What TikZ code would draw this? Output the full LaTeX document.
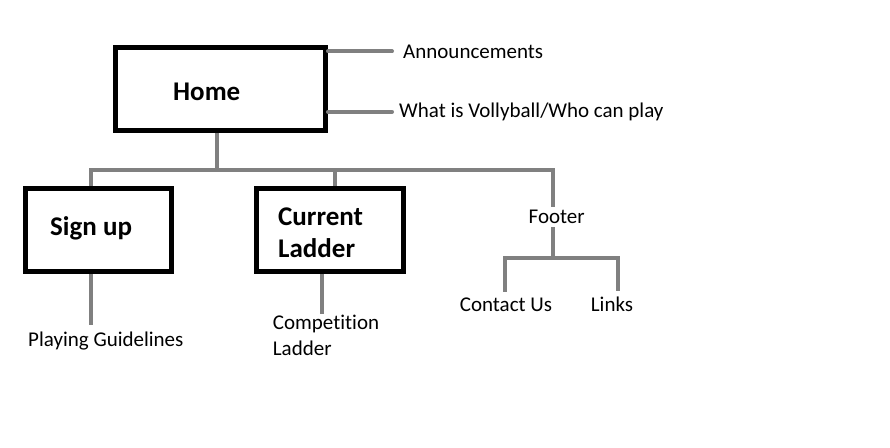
\documentclass[tikz,border=0pt]{standalone}
\usepackage{fontspec}
\setmainfont{Carlito}[RawFeature={-liga;-dlig;-clig}]
\begin{document}
\begin{tikzpicture}[x=1pt,y=-1pt,
  box/.style={draw=black,line width=5pt,rectangle,inner sep=0pt,minimum height=83pt},
  bigtext/.style={inner sep=0pt,font=\bfseries\fontsize{27}{32}\selectfont,align=left},
  smalltext/.style={inner sep=0pt,font=\fontsize{21}{26.5}\selectfont,align=left},
  conn/.style={draw=gray,line width=4pt,line cap=butt},
  rconn/.style={conn,line cap=round}]
\useasboundingbox (0,0) rectangle (890,447);
% boxes
\node[box,minimum width=210pt] (home) at (220.5,89) {};
\node[box,minimum width=146pt] (signup) at (98.5,230) {};
\node[box,minimum width=147pt] (ladder) at (330,230) {};
% box texts
\node[bigtext,anchor=base west] (homet) at (173,100) {Home};
\node[bigtext,anchor=base west] (signupt) at (50,235.7) {Sign up};
\node[bigtext,anchor=north west] (laddert) at (278,207.5) {Current\\Ladder};
% other texts
\node[smalltext,anchor=base west] (ann) at (403,58) {Announcements};
\node[smalltext,anchor=base west] (what) at (399,117.5) {What is Vollyball/Who can play};
\node[smalltext,anchor=base] (footer) at (556.7,223.5) {Footer};
\node[smalltext,anchor=base] (contact) at (506,311.7) {Contact Us};
\node[smalltext,anchor=base] (links) at (612,311.7) {Links};
\node[smalltext,anchor=base west] (guide) at (28,346.5) {Playing Guidelines};
\node[smalltext,anchor=north west] (comp) at (272.7,314.5) {Competition\\Ladder};
% junctions
\coordinate (jH) at (217,170);
\coordinate (jL) at (91,170);
\coordinate (jC) at (335,170);
\coordinate (jR) at (553,170);
\coordinate (jF) at (553,258);
\coordinate (jFL) at (505,258);
\coordinate (jFR) at (618,258);
% connectors
\draw[rconn] (home.east |- ann.west) -- ([xshift=-11pt]ann.west);
\draw[rconn] (home.east |- what.west) -- ([xshift=-7pt]what.west);
\draw[conn] (home.south -| jH) -- (jH);
\draw[conn] (signup.north -| jL) -- (jL) -- (jR) -- ([yshift=3pt]footer.north -| jR);
\draw[conn] (jC) -- (ladder.north -| jC);
\draw[conn] ([yshift=-3.5pt]footer.south -| jF) -- (jF);
\draw[conn] ([xshift=-2pt]jFL) -- ([xshift=2pt]jFR);
\draw[conn] (jFL) -- ([yshift=6pt]contact.north -| jFL);
\draw[conn] (jFR) -- ([yshift=6pt]links.north -| jFR);
\draw[conn] (signup.south -| jL) -- ([yshift=7pt]guide.north -| jL);
\draw[conn] (ladder.south -| 322,0) -- ([yshift=1pt]comp.north -| 322,0);
\end{tikzpicture}
\end{document}
